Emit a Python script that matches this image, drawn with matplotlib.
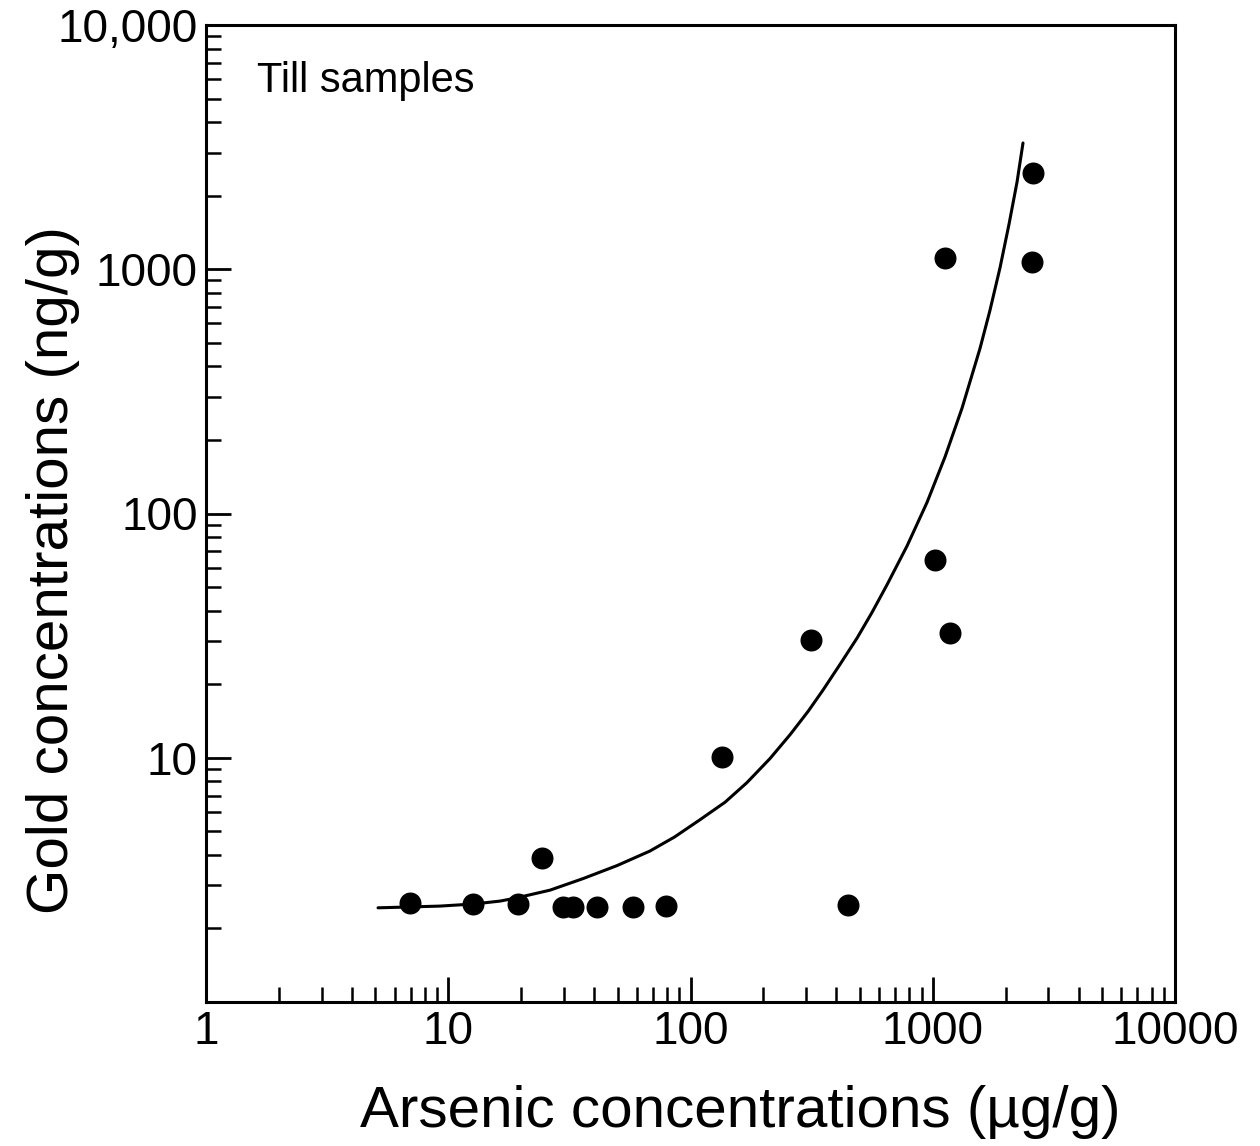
import matplotlib
matplotlib.use("Agg")
import matplotlib.pyplot as plt
from matplotlib.ticker import FixedLocator, NullFormatter, LogLocator

# ---- data ----
arsenic = [6.95, 12.6, 19.4, 24.4, 29.8, 32.7, 41.1, 57.9, 79.2,
           135, 314, 447, 1022, 1178, 1120, 2570, 2594]
gold = [2.54, 2.52, 2.52, 3.89, 2.45, 2.45, 2.45, 2.45, 2.47,
        10.07, 30.3, 2.49, 64.5, 32.4, 1112, 1071, 2478]

curve_x = [5.13, 6.95, 9.25, 12.8, 16.4, 19.2, 26.3, 36.0, 49.8, 68.0,
           86.0, 109, 139, 171, 213, 258, 306, 352, 414, 487, 561, 647,
           783, 947, 1125, 1321, 1567, 1722, 1896, 2065, 2228, 2358]
curve_y = [2.43, 2.45, 2.47, 2.52, 2.59, 2.67, 2.87, 3.20, 3.62, 4.15,
           4.74, 5.56, 6.58, 7.91, 9.93, 12.45, 15.5, 18.9, 24.1, 30.9,
           39.3, 51.0, 73.6, 111, 171, 270, 474, 678, 1016, 1531, 2275, 3288]

x_ticks = [1, 10, 100, 1000, 10000]
x_labels = ["1", "10", "100", "1000", "10000"]
y_ticks = [10, 100, 1000, 10000]
y_labels = ["10", "100", "1000", "10,000"]

plt.rcParams['font.family'] = ['Liberation Sans', 'DejaVu Sans']

fig = plt.figure(figsize=(12.6, 11.46), dpi=100)
ax = fig.add_axes([206/1260, 1 - 1002/1146, (1175-206)/1260, (1002-25)/1146])

ax.set_xscale('log')
ax.set_yscale('log')
ax.set_xlim(1, 10000)
ax.set_ylim(1, 10000)

ax.plot(curve_x, curve_y, color='black', lw=2.2, solid_capstyle='round',
        solid_joinstyle='round')
ax.scatter(arsenic, gold, s=220, color='black', zorder=3)

ax.xaxis.set_major_locator(FixedLocator(x_ticks))
ax.set_xticklabels(x_labels)
ax.yaxis.set_major_locator(FixedLocator(y_ticks))
ax.set_yticklabels(y_labels)
ax.xaxis.set_minor_locator(LogLocator(base=10, subs=range(2, 10), numticks=20))
ax.yaxis.set_minor_locator(LogLocator(base=10, subs=range(2, 10), numticks=20))
ax.xaxis.set_minor_formatter(NullFormatter())
ax.yaxis.set_minor_formatter(NullFormatter())

ax.tick_params(which='major', direction='in', length=18, width=2.0,
               labelsize=33, pad=6, color='black')
ax.tick_params(which='minor', direction='in', length=11, width=1.8, color='black')
ax.tick_params(axis='y', which='both', left=True, right=False)
ax.tick_params(axis='x', which='both', bottom=True, top=False)

for sp in ax.spines.values():
    sp.set_linewidth(2.2)
    sp.set_color('black')

ax.set_xlabel("Arsenic concentrations (µg/g)", fontsize=42)
ax.set_ylabel("Gold concentrations (ng/g)", fontsize=42)
ax.xaxis.set_label_coords(0.551, -0.085)
ax.yaxis.set_label_coords(-0.13, 0.442)

ax.text(0.053, 0.931, "Till samples", transform=ax.transAxes,
        fontsize=30, va='baseline', ha='left')

fig.savefig("out.png", dpi=100)
